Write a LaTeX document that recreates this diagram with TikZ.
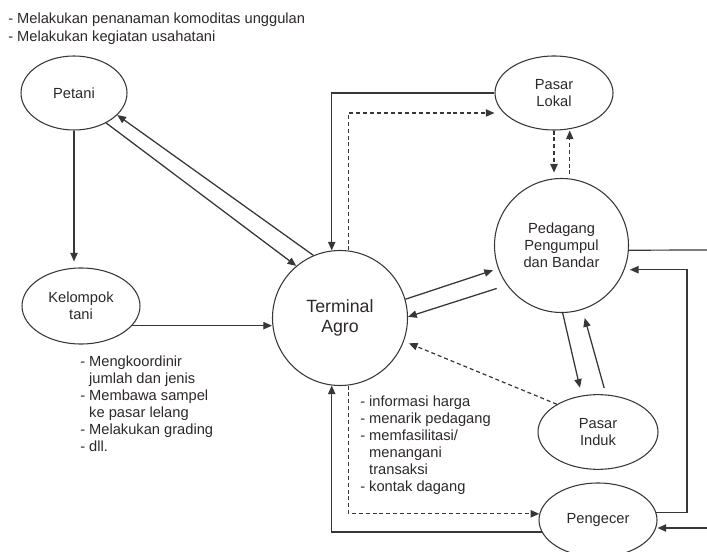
\documentclass[tikz,border=0pt]{standalone}
\usepackage{fontspec}
\setmainfont{Liberation Sans}
\usepackage{xcolor}
\usepackage{tikz}
\usetikzlibrary{shapes.geometric, arrows.meta}
\definecolor{linecolor}{RGB}{55,55,55}
\definecolor{textcolor}{RGB}{45,40,40}

\begin{document}
\begin{tikzpicture}[
    x=0.75pt, y=-0.75pt,
    actor/.style={draw=linecolor, line width=0.8pt, ellipse, inner sep=0pt, align=center, text=textcolor, font=\fontsize{11}{12.75}\selectfont},
    hub/.style={draw=linecolor, line width=0.8pt, circle, inner sep=0pt, align=center, text=textcolor},
    notes/.style={align=left, inner sep=0pt, text=textcolor, font=\fontsize{11}{12.75}\selectfont},
    plain/.style={line width=0.9pt, linecolor},
    arrow/.style={-{Triangle[length=6.5pt, width=5.5pt]}, line width=0.95pt, linecolor},
    dasharrow/.style={arrow, line width=0.9pt, dash pattern=on 3pt off 2.2pt}
]
    \useasboundingbox (0,0) rectangle (707,552);

    % Actors
    \node[actor, minimum width=79.5pt, minimum height=55.5pt] (petani) at (74,93) {Petani};
    \node[actor, minimum width=88.5pt, minimum height=57pt] (kelompok) at (81,306) {Kelompok\\tani};
    \node[hub, minimum size=101.25pt, font=\fontsize{13.3}{15}\selectfont] (terminal) at (340,318) {Terminal\\Agro};
    \node[actor, minimum width=88.5pt, minimum height=55.5pt] (lokal) at (554,93) {Pasar\\Lokal};
    \node[hub, minimum size=100.5pt, font=\fontsize{11}{12.75}\selectfont] (pedagang) at (561.5,245.5) {Pedagang\\Pengumpul\\dan Bandar};
    \node[actor, minimum width=90pt, minimum height=56pt] (induk) at (598,432) {Pasar\\Induk};
    \node[actor, minimum width=88.5pt, minimum height=55.5pt] (pengecer) at (598,520) {Pengecer};

    % Notes
    \node[notes, anchor=north west, font=\fontsize{11}{13.5}\selectfont] (tasksPetani) at (8,13)
        {- Melakukan penanaman komoditas unggulan\\- Melakukan kegiatan usahatani};
    \node[notes, anchor=north west] (tasksKelompok) at (80,356)
        {- Mengkoordinir\\\phantom{- }jumlah dan jenis\\- Membawa sampel\\\phantom{- }ke pasar lelang\\- Melakukan grading\\- dll.};
    \node[notes, anchor=north west] (tasksTerminal) at (360,396)
        {- informasi harga\\- menarik pedagang\\- memfasilitasi/\\\phantom{- }menangani\\\phantom{- }transaksi\\- kontak dagang};

    % Free ends at the right margin
    \coordinate (exitR) at (707,250);
    \coordinate (entryR) at (707,528);
    \coordinate (railR) at (687,270);

    % Connections
    \draw[arrow, shorten >=4.5pt] (petani.south) -- (petani.south |- kelompok.north);
    \draw[arrow] (petani.-43) -- (terminal.130);
    \draw[arrow] (terminal.113) -- (petani.-27);
    \draw[arrow] (kelompok.-21) -- (kelompok.-21 -| terminal.west);
    \draw[arrow] (lokal.west) -| (terminal.97);
    \draw[dasharrow] (terminal.83) |- ([yshift=-15pt]lokal.west);
    \draw[dasharrow, shorten >=4pt] (lokal.south) -- (lokal.south |- pedagang.north);
    \draw[dasharrow, shorten <=3pt] (pedagang.83) -- (pedagang.83 |- lokal.south);
    \draw[arrow, shorten >=4pt] (terminal.16) -- (pedagang.200);
    \draw[arrow, shorten <=8pt] (pedagang.216) -- (terminal.1);
    \draw[dasharrow, shorten >=4pt] (induk.146) -- (terminal.-20);
    \draw[arrow, shorten >=6pt] (pedagang.-89) -- (induk.114);
    \draw[arrow, shorten <=5pt, shorten >=6.5pt] (induk.78) -- (pedagang.-72);
    \draw[plain] (pedagang.-4) -- (exitR);
    \draw[arrow, shorten >=4pt] (pengecer.7) -| (railR |- pedagang.-21) -- (pedagang.-21);
    \draw[arrow] (entryR) -- (entryR -| pengecer.east);
    \draw[dasharrow] (terminal.-83) |- (pengecer.174);
    \draw[arrow] (pengecer.192) -| (terminal.-97);
\end{tikzpicture}
\end{document}
